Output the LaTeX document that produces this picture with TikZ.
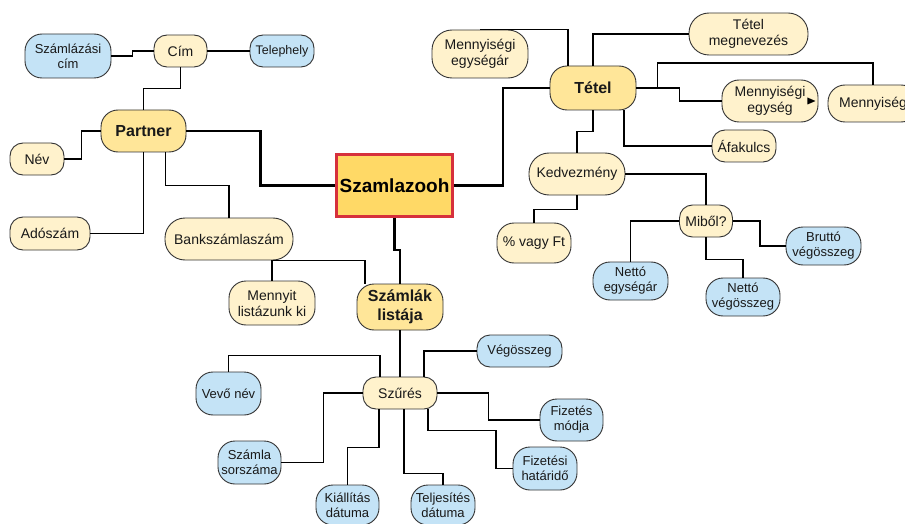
\documentclass[tikz,border=0pt]{standalone}
\usepackage{fontspec}
\setmainfont{Liberation Sans}
\definecolor{paleyel}{HTML}{FFF2CC}
\definecolor{hubyel}{HTML}{FFE699}
\definecolor{rootyel}{HTML}{FFD966}
\definecolor{rootred}{HTML}{D6303C}
\definecolor{paleblue}{HTML}{C4E3F6}
\definecolor{rim}{HTML}{333333}
\tikzset{
  item/.style={draw=rim, line width=0.9pt, rounded corners=17pt, align=center, inner sep=0pt, text=black!90},
  yitem/.style={item, fill=paleyel, font=\fontsize{14}{16}\selectfont},
  bitem/.style={item, fill=paleblue, font=\fontsize{13}{15}\selectfont},
  hub/.style={item, fill=hubyel, font=\bfseries\fontsize{16}{19}\selectfont},
  flat/.style={rounded corners=13pt},
  main/.style={line width=2.6pt},
  mid/.style={line width=1.8pt},
  fine/.style={line width=1.3pt},
}
\begin{document}
\begin{tikzpicture}[x=1pt,y=-1pt]
\clip (0,0) rectangle (905,524);

% central box
\node[draw=rootred, line width=2.6pt, fill=rootyel, minimum width=116pt, minimum height=62pt, inner sep=0pt, font=\bfseries\fontsize{19}{22}\selectfont] (root) at (394.5,185.5) {Szamlazooh};

% partner side
\node[hub, minimum width=85pt, minimum height=42pt] (partner) at (143.5,131) {Partner};
\node[yitem, flat, minimum width=53pt, minimum height=32pt] (cim) at (180.5,51) {Cím};
\node[bitem, minimum width=86pt, minimum height=44pt] (szcim) at (68,56) {Számlázási\\cím};
\node[bitem, flat, minimum width=64pt, minimum height=32pt, font=\fontsize{12.5}{15}\selectfont] (telep) at (282,51) {Telephely};
\node[yitem, flat, minimum width=54pt, minimum height=32pt] (nev) at (37,159) {Név};
\node[yitem, flat, minimum width=80pt, minimum height=33pt] (adosz) at (50,233.5) {Adószám};
\node[yitem, minimum width=128pt, minimum height=42pt, rounded corners=20pt] (bank) at (229,239) {Bankszámlaszám};

% list side
\node[yitem, minimum width=86pt, minimum height=44pt] (mennyit) at (272,303) {Mennyit\\listázunk ki};
\node[hub, minimum width=86pt, minimum height=46pt] (lista) at (400,307) {Számlák\\listája};
\node[yitem, flat, minimum width=74pt, minimum height=32pt] (szures) at (400,393) {Szűrés};
\node[bitem, minimum width=65pt, minimum height=43pt] (vevo) at (228.5,393.5) {Vevő név};
\node[bitem, minimum width=63pt, minimum height=43pt] (sorsz) at (249.5,462.5) {Számla\\sorszáma};
\node[bitem, minimum width=63pt, minimum height=40pt] (kiall) at (347.5,505) {Kiállítás\\dátuma};
\node[bitem, minimum width=64pt, minimum height=40pt] (telj) at (443,505) {Teljesítés\\dátuma};
\node[bitem, flat, minimum width=85pt, minimum height=32pt] (vegossz) at (519.5,351) {Végösszeg};
\node[bitem, minimum width=63pt, minimum height=42pt] (fizmod) at (571.5,420) {Fizetés\\módja};
\node[bitem, minimum width=64pt, minimum height=43pt] (fizhat) at (545,468.5) {Fizetési\\határidő};

% item side
\node[hub, minimum width=86pt, minimum height=44pt] (tetel) at (593,88) {Tétel};
\node[yitem, minimum width=96pt, minimum height=48pt, rounded corners=20pt] (megysar) at (480,54) {Mennyiségi\\egységár};
\node[yitem, minimum width=119pt, minimum height=42pt, rounded corners=20pt] (tetmegn) at (748.5,34) {Tétel\\megnevezés};
\node[yitem, minimum width=96pt, minimum height=42pt] (megys) at (770,101) {Mennyiségi\\egység};
\node[yitem, minimum width=90pt, minimum height=37pt] (menny) at (873,103.5) {Mennyiség};
\node[yitem, flat, minimum width=64pt, minimum height=32pt] (afa) at (744,146) {Áfakulcs};
\node[yitem, minimum width=96pt, minimum height=42pt, rounded corners=20pt] (kedv) at (577,174) {Kedvezmény};
\node[yitem, minimum width=74pt, minimum height=40pt] (vagy) at (534,243) {\% vagy Ft};
\node[yitem, flat, minimum width=53pt, minimum height=32pt] (mibol) at (706,221) {Miből?};
\node[bitem, minimum width=75pt, minimum height=38pt] (netegy) at (630.5,281) {Nettó\\egységár};
\node[bitem, minimum width=74pt, minimum height=38pt] (netveg) at (743,297) {Nettó\\végösszeg};
\node[bitem, minimum width=75pt, minimum height=38pt] (brutto) at (823.5,246) {Bruttó\\végösszeg};

% main branches
\draw[main] (partner.east) -- ++(74,0) |- (root.west);
\draw[main] (root.east) -- ++(49,0) |- (tetel.west);
\draw[main] (root.south) -- ++(0,32) -| (lista.north);

% partner
\draw[mid] (cim.south) -- ++(0,21) -| (partner.north);
\draw[mid] (szcim.east) -- ++(21,0) |- (cim.west);
\draw[mid] (cim.east) -- (telep.west);
\draw[mid] (partner.west) -- ++(-19,0) |- (nev.east);
\draw[mid] (partner.south) |- (adosz.east);
\draw[mid] ([xshift=22pt]partner.south) -- ++(0,33) -| (bank.north);

% tetel
\draw[mid] ([xshift=-25pt]tetel.north) |- (megysar.north);
\draw[mid] (tetel.north) |- (tetmegn.west);
\draw[mid] (tetel.east) -- ++(43,0) |- (megys.west);
\draw[mid] (tetel.east) -- ++(21,0) -- ++(0,-25) -| (menny.north);
\draw[mid] ([xshift=31pt]tetel.south) |- (afa.west);
\draw[mid] (tetel.south) -- ++(0,21) -| (kedv.north);
\draw[mid] (kedv.south) -- ++(0,14) -| (vagy.north);
\draw[mid] (kedv.east) -| (mibol.north);
\fill ([xshift=-11pt]megys.east) ++(0,-3.5) -- ++(8,3.5) -- ++(-8,3.5) -- cycle;

% miből
\draw[fine] (mibol.west) -| (netegy.north);
\draw[fine] (mibol.south) -- ++(0,22) -| (netveg.north);
\draw[fine] (mibol.east) -- ++(27,0) |- (brutto.west);

% lista
\draw[fine] ([xshift=43pt]bank.south) -- (mennyit.north);
\draw[fine] ([xshift=43pt]bank.south) -| ([xshift=-35pt]lista.north);
\draw[fine] (lista.south) -- (szures.north);
\draw[fine] ([xshift=-20pt]szures.north) -- ++(0,-21) -| (vevo.north);
\draw[fine] ([xshift=24pt]szures.north) |- (vegossz.west);
\draw[fine] (szures.west) -- ++(-39,0) |- (sorsz.east);
\draw[fine] ([xshift=-21pt]szures.south) -- ++(0,38) -| (kiall.north);
\draw[fine] ([xshift=4pt]szures.south) -- ++(0,64) -| (telj.north);
\draw[fine] (szures.east) -- ++(51,0) |- (fizmod.west);
\draw[fine] ([xshift=28pt]szures.south) -- ++(0,21) -- ++(68,0) |- (fizhat.west);
\end{tikzpicture}
\end{document}
